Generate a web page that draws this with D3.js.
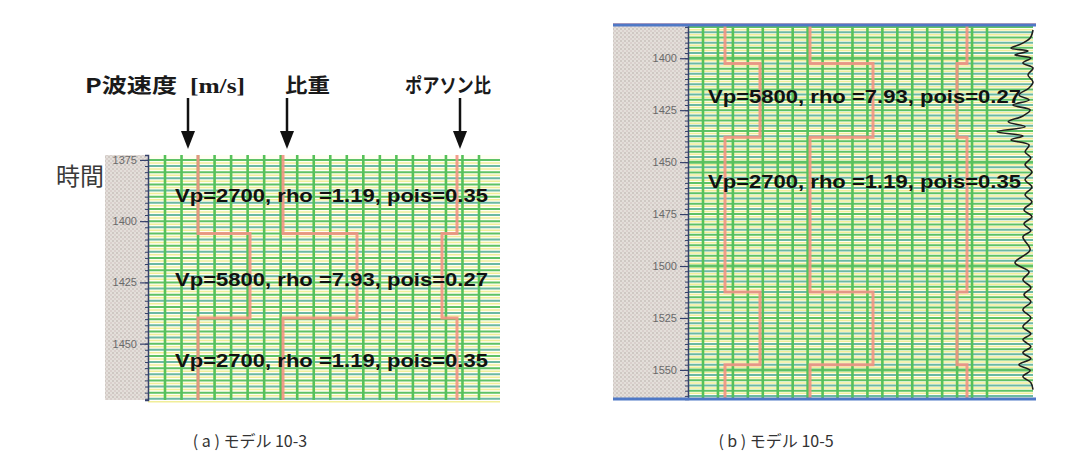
<!DOCTYPE html>
<html>
<head>
<meta charset="utf-8">
<script src="https://cdn.jsdelivr.net/npm/d3@7"></script>
<style>
  body { margin: 0; background: #fff; }
  svg { display: block; }
</style>
</head>
<body>
<script>
// model 10-3 (left panel)
const tickTimesA = [1375, 1400, 1425, 1450];
const boundsA = [1373, 1405, 1439.5, 1473];
const vpA = [2700, 5800, 2700];
const rhoA = [1.19, 7.93, 1.19];
const poisA = [0.35, 0.27, 0.35];
const labelTimesA = [1392.3, 1426.3, 1459.5];
const labelLayersA = [0, 1, 2];

// model 10-5 (right panel)
const tickTimesB = [1400, 1425, 1450, 1475, 1500, 1525, 1550];
const boundsB = [1384, 1402.5, 1438, 1512.5, 1547.5, 1564];
const vpB = [2700, 5800, 2700, 5800, 2700];
const rhoB = [1.19, 7.93, 1.19, 7.93, 1.19];
const poisB = [0.35, 0.27, 0.35, 0.27, 0.35];
const labelTimesB = [1421.5, 1462.4];
const labelLayersB = [1, 2];

// synthetic trace on the right of model 10-5
const traceTimes = [1386.4, 1390.3, 1393.1, 1395.1, 1396.5, 1398.4, 1399.9, 1402.3, 1404.7, 1408.0,
  1411.4, 1414.3, 1417.7, 1420.1, 1422.5, 1424.9, 1427.8, 1430.6, 1433.0, 1435.4,
  1437.4, 1439.3, 1441.7, 1445.1, 1447.9, 1451.3, 1454.7, 1458.5, 1461.9, 1465.7,
  1469.1, 1472.9, 1476.3, 1479.7, 1483.0, 1485.9, 1492.2, 1498.4, 1502.8, 1506.6,
  1510.4, 1513.8, 1517.2, 1521.0, 1524.9, 1529.2, 1532.6, 1535.4, 1538.8, 1541.7,
  1544.6, 1547.5, 1550.3, 1553.2, 1556.1, 1559.5];
const traceAmps = [0, -0.08, -0.33, -0.61, -0.14, -0.5, -0.06, -0.28, 0, -0.14,
  0, -0.11, -0.39, -0.11, -0.56, -0.08, -0.28, -0.69, -0.22, -1.0,
  -0.28, -0.61, -0.11, -0.22, -0.06, -0.22, -0.03, -0.22, -0.03, -0.22,
  -0.03, -0.25, -0.03, -0.25, -0.06, -0.28, -0.08, -0.5, -0.11, -0.28,
  -0.06, -0.25, -0.06, -0.28, -0.06, -0.28, -0.06, -0.28, -0.06, -0.28,
  -0.06, -0.39, -0.08, -0.28, -0.06, 0];

const headers = ["P波速度", "比重", "ポアソン比"];
const unitText = "[m/s]";
const timeTitle = "時間";
const captions = ["( a ) モデル 10-3", "( b ) モデル 10-5"];

const svg = d3.select("body").append("svg")
    .attr("width", 1069)
    .attr("height", 470);

// dotted grey pattern for the axis strip
let defs = svg.append("defs");
let pat = defs.append("pattern").attr("id", "dots")
    .attr("width", 4).attr("height", 4).attr("patternUnits", "userSpaceOnUse");
pat.append("rect").attr("width", 4).attr("height", 4).attr("fill", "#e3dfda");
pat.append("rect").attr("width", 2).attr("height", 2).attr("fill", "#cfc8c3");
pat.append("rect").attr("x", 2).attr("y", 2).attr("width", 2).attr("height", 2).attr("fill", "#d9cfcc");

function drawPanel(cfg) {
    let y = d3.scaleLinear().domain([cfg.t0, cfg.t1]).range([cfg.y0, cfg.y1]);
    let gx = d3.scaleLinear().domain([0, cfg.cols - 1]).range(cfg.gridX);
    let xs = {
        vp: d3.scaleLinear().domain([2700, 5800]).range(cfg.vpX),
        rho: d3.scaleLinear().domain([1.19, 7.93]).range(cfg.rhoX),
        pois: d3.scaleLinear().domain([0.35, 0.27]).range(cfg.poisX)
    };
    let g = svg.append("g");

    // axis strip + plot background
    g.append("rect").attr("x", cfg.stripX).attr("y", cfg.y0)
        .attr("width", cfg.x0 - cfg.stripX).attr("height", cfg.y1 - cfg.y0)
        .attr("fill", "url(#dots)");
    g.append("rect").attr("x", cfg.x0).attr("y", cfg.y0)
        .attr("width", cfg.x1 - cfg.x0).attr("height", cfg.y1 - cfg.y0)
        .attr("fill", "#fffff2");

    // horizontal grid, every 2.5 ms
    let hTimes = d3.range(Math.ceil(cfg.t0 / 2.5) * 2.5, cfg.t1, 2.5);
    g.selectAll(".hy").data(hTimes).enter().append("line")
        .attr("x1", cfg.x0).attr("x2", cfg.x1)
        .attr("y1", d => y(d + 1.25)).attr("y2", d => y(d + 1.25))
        .attr("stroke", "#f1ee9a").attr("stroke-width", 1.5);
    g.selectAll(".hg").data(hTimes).enter().append("line")
        .attr("x1", cfg.x0).attr("x2", cfg.x1)
        .attr("y1", d => y(d)).attr("y2", d => y(d))
        .attr("stroke", d => d % 5 == 0 ? "#5ec266" : "#6bb9a4")
        .attr("stroke-width", d => (cfg.thick50 && d % 50 == 0) ? 3 : 2);

    // vertical grid
    g.selectAll(".vg").data(d3.range(cfg.cols)).enter().append("line")
        .attr("x1", d => gx(d)).attr("x2", d => gx(d))
        .attr("y1", cfg.y0).attr("y2", cfg.y1)
        .attr("stroke", "#56c15a").attr("stroke-width", 2.6);

    // step curves of the layered model
    let line = d3.line().x(d => d[0]).y(d => y(d[1]));
    ["vp", "rho", "pois"].forEach(key => {
        let pts = [];
        cfg[key].forEach((v, i) => {
            pts.push([xs[key](v), cfg.bounds[i]]);
            pts.push([xs[key](v), cfg.bounds[i + 1]]);
        });
        g.append("path").attr("d", line(pts))
            .attr("fill", "none").attr("stroke", "#f29383")
            .attr("stroke-width", 3).attr("stroke-opacity", 0.9);
    });

    // axis
    let minor = d3.range(Math.ceil(cfg.t0 / 2.5) * 2.5, cfg.t1, 2.5);
    let ax2 = g.append("g").attr("transform", `translate(${cfg.x0},0)`)
        .call(d3.axisLeft(y).tickValues(minor).tickSize(3).tickFormat(""));
    ax2.select(".domain").attr("stroke", "#34406a").attr("stroke-width", 1.5);
    ax2.selectAll(".tick line").attr("stroke", "#34406a");
    let ax = g.append("g").attr("transform", `translate(${cfg.x0},0)`)
        .call(d3.axisLeft(y).tickValues(cfg.ticks).tickSize(8).tickPadding(3).tickFormat(d3.format("d")));
    ax.select(".domain").remove();
    ax.selectAll(".tick line").attr("stroke", "#34406a").attr("stroke-width", 1.2);
    ax.selectAll(".tick text")
        .attr("font-family", "'Liberation Sans Narrow', 'Liberation Sans', sans-serif")
        .attr("font-size", 11).attr("fill", "#6a6a6a");

    // layer labels
    cfg.labelTimes.forEach((t, i) => {
        let k = cfg.labelLayers[i];
        g.append("text")
            .attr("x", cfg.labelX).attr("y", y(t))
            .attr("font-family", "'Liberation Sans', Arial, sans-serif")
            .attr("font-weight", "bold").attr("font-size", 19)
            .attr("textLength", 313).attr("lengthAdjust", "spacingAndGlyphs")
            .attr("fill", "#111")
            .text(`Vp=${cfg.vp[k]}, rho =${cfg.rho[k]}, pois=${cfg.pois[k]}`);
    });

    return { g: g, y: y };
}

let pa = drawPanel({
    x0: 148, x1: 500, y0: 155, y1: 400, stripX: 105, t0: 1373, t1: 1473,
    cols: 20, gridX: [165, 479], vpX: [198, 250], rhoX: [283, 357], poisX: [457, 442],
    bounds: boundsA, vp: vpA, rho: rhoA, pois: poisA, ticks: tickTimesA,
    labelTimes: labelTimesA, labelLayers: labelLayersA, labelX: 175, thick50: false
});

let pb = drawPanel({
    x0: 688, x1: 1033, y0: 25, y1: 399, stripX: 613, t0: 1384, t1: 1564,
    cols: 20, gridX: [703, 987], vpX: [725, 760], rhoX: [810, 873], poisX: [967, 957],
    bounds: boundsB, vp: vpB, rho: rhoB, pois: poisB, ticks: tickTimesB,
    labelTimes: labelTimesB, labelLayers: labelLayersB, labelX: 708, thick50: true
});

// trace on the right edge of panel b
let ampX = d3.scaleLinear().domain([-1, 0]).range([997, 1033]);
let traceLine = d3.line()
    .x((d, i) => ampX(traceAmps[i]))
    .y(d => pb.y(d))
    .curve(d3.curveCatmullRom);
pb.g.append("path").attr("d", traceLine(traceTimes))
    .attr("fill", "none").attr("stroke", "#1e1e1e").attr("stroke-width", 1.6);

// blue frame lines of panel b
pb.g.append("line").attr("x1", 613).attr("x2", 1036).attr("y1", 23.5).attr("y2", 23.5)
    .attr("stroke", "#f2b6b6").attr("stroke-width", 1);
[25, 399].forEach(v => {
    pb.g.append("line").attr("x1", 613).attr("x2", 1036).attr("y1", v).attr("y2", v)
        .attr("stroke", "#4f78c6").attr("stroke-width", 3);
});

// headers + arrows over panel a
let hdr = svg.append("g")
    .attr("font-family", "'Noto Sans CJK JP', sans-serif")
    .attr("font-weight", "bold").attr("font-size", 20).attr("fill", "#1a1a1a");
hdr.append("text").attr("x", 85).attr("y", 93).attr("textLength", 92)
    .attr("lengthAdjust", "spacingAndGlyphs").text(headers[0]);
hdr.append("text").attr("x", 190).attr("y", 93)
    .attr("font-family", "'Liberation Serif', serif").attr("font-size", 20)
    .attr("textLength", 55).attr("lengthAdjust", "spacingAndGlyphs").text(unitText);
hdr.append("text").attr("x", 285).attr("y", 93).attr("textLength", 45)
    .attr("lengthAdjust", "spacingAndGlyphs").text(headers[1]);
hdr.append("text").attr("x", 405).attr("y", 93).attr("textLength", 86)
    .attr("lengthAdjust", "spacingAndGlyphs").text(headers[2]);

[188, 287, 460].forEach(x => {
    hdr.append("line").attr("x1", x).attr("x2", x).attr("y1", 98).attr("y2", 134)
        .attr("stroke", "#111").attr("stroke-width", 2.5);
    hdr.append("path").attr("d", `M${x - 7},131L${x + 7},131L${x},149Z`).attr("fill", "#111");
});

svg.append("text").attr("x", 56).attr("y", 185)
    .attr("font-family", "'Noto Sans CJK JP', sans-serif")
    .attr("font-size", 24).attr("fill", "#3a3a3a")
    .text(timeTitle);

// captions
svg.selectAll(".cap").data(captions).enter().append("text")
    .attr("x", (d, i) => [250, 776][i]).attr("y", 447)
    .attr("text-anchor", "middle")
    .attr("font-family", "'Noto Sans CJK JP', sans-serif")
    .attr("font-size", 16).attr("fill", "#333")
    .text(d => d);
</script>
</body>
</html>
